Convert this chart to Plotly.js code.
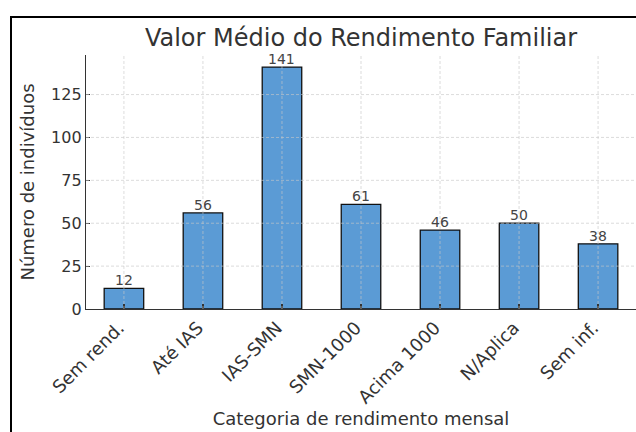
<!DOCTYPE html>
<html>
<head>
<meta charset="utf-8">
<script src="https://cdn.plot.ly/plotly-3.0.1.min.js"></script>
<style>
html, body { margin: 0; padding: 0; overflow: hidden; background: #fff; }
#wrap { position: relative; width: 636px; height: 432px; }
#chart { position: absolute; left: 0; top: 0; width: 636px; height: 432px; }
#frame { position: absolute; left: 10px; top: 16px; width: 630px; height: 420px;
  border-top: 2px solid #000; border-left: 2px solid #000; pointer-events: none; }
</style>
</head>
<body>
<div id="wrap">
  <div id="chart"></div>
  <div id="frame"></div>
</div>
<script>
const categories = ["Sem rend.", "Até IAS", "IAS-SMN", "SMN-1000", "Acima 1000", "N/Aplica", "Sem inf."];
const values = [12, 56, 141, 61, 46, 50, 38];
const yTicks = [0, 25, 50, 75, 100, 125];

const font = "DejaVu Sans, sans-serif";
const textColor = "#333333";
const gridColor = "rgba(200,200,200,0.8)";

const shapes = [];
categories.forEach(c => {
  shapes.push({type: "line", xref: "x", yref: "paper", x0: c, x1: c, y0: 0, y1: 1,
    line: {color: gridColor, width: 0.8, dash: "3px,2px"}, layer: "above"});
});
yTicks.slice(1).forEach(v => {
  shapes.push({type: "line", xref: "paper", yref: "y", x0: 0, x1: 1, y0: v, y1: v,
    line: {color: gridColor, width: 0.8, dash: "3px,2px"}, layer: "above"});
});

const annotations = categories.map((c, i) => ({
  x: c, y: values[i], xref: "x", yref: "y",
  text: String(values[i]), showarrow: false,
  xanchor: "center", yanchor: "bottom", yshift: -2,
  font: {family: font, size: 14, color: "#444444"}
}));

const trace = {
  type: "bar",
  x: categories,
  y: values,
  width: 0.5,
  marker: {color: "#5b9bd5", line: {color: "#111111", width: 1.3}},
  cliponaxis: false,
  hoverinfo: "skip"
};

const layout = {
  width: 636, height: 432,
  margin: {l: 86, r: 0, t: 55, b: 123, pad: 0},
  paper_bgcolor: "#ffffff",
  plot_bgcolor: "#ffffff",
  font: {family: font, color: textColor},
  showlegend: false,
  title: {text: "Valor Médio do Rendimento Familiar", font: {family: font, size: 24, color: textColor},
    x: 0.5, xref: "paper", xanchor: "center", y: 0.913, yref: "container", yanchor: "middle"},
  xaxis: {
    type: "category",
    range: [-0.48, 6.48],
    tickangle: -45,
    ticklabelshift: -5,
    tickfont: {family: font, size: 18, color: textColor},
    ticks: "inside", ticklen: 5, tickwidth: 1.2, tickcolor: "#333",
    showline: true, linecolor: "#333", linewidth: 1.2,
    showgrid: false, zeroline: false,
    title: {text: "Categoria de rendimento mensal", font: {family: font, size: 18, color: textColor}, standoff: 0},
    automargin: false
  },
  yaxis: {
    range: [0, 148.05],
    tickvals: yTicks,
    tickfont: {family: font, size: 16, color: textColor},
    ticks: "inside", ticklen: 4, tickwidth: 1.2, tickcolor: "#333",
    showline: true, linecolor: "#333", linewidth: 1.2,
    showgrid: false, zeroline: false,
    title: {text: "Número de indivíduos", font: {family: font, size: 18, color: textColor}, standoff: 11},
    automargin: false
  },
  shapes: shapes,
  annotations: annotations,
  bargap: 0.5
};

Plotly.newPlot("chart", [trace], layout, {staticPlot: true, displayModeBar: false});
</script>
</body>
</html>
